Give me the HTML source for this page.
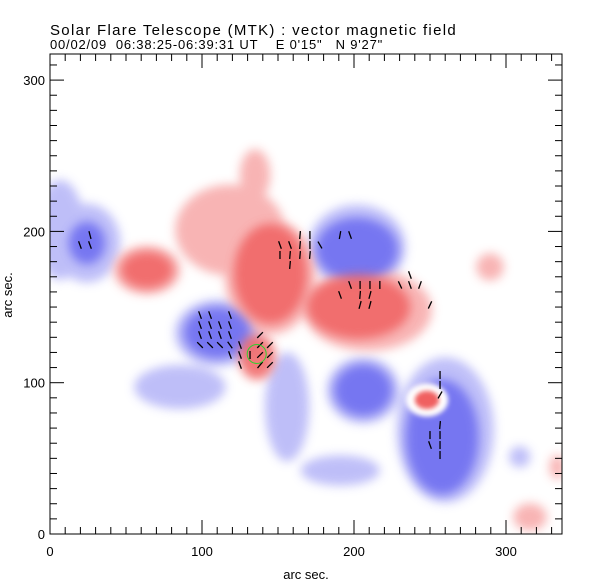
<!DOCTYPE html>
<html><head><meta charset="utf-8"><style>
body{margin:0;background:#fff;}
svg{display:block;font-family:"Liberation Sans",sans-serif;}
</style></head><body>
<svg id="c" width="612" height="585" viewBox="0 0 612 585">
<defs>
<filter id="bl" x="-50%" y="-50%" width="200%" height="200%"><feGaussianBlur stdDeviation="5"/></filter>
<filter id="bl2" x="-50%" y="-50%" width="200%" height="200%"><feGaussianBlur stdDeviation="2.5"/></filter>
<clipPath id="pc"><rect x="50" y="54" width="512" height="480"/></clipPath>
</defs>
<text x="50" y="35" font-size="15" letter-spacing="1.3">Solar Flare Telescope (MTK) : vector magnetic field</text>
<text x="50" y="49" font-size="13" letter-spacing="0.8" xml:space="preserve">00/02/09  06:38:25-06:39:31 UT    E 0'15"   N 9'27"</text>
<g id="img" clip-path="url(#pc)"></g>
<g id="arr"></g>
<g id="ax"></g>
<text x="306" y="579" font-size="13" text-anchor="middle">arc sec.</text>
<text x="0" y="0" font-size="13" text-anchor="middle" transform="translate(12,295) rotate(-90)">arc sec.</text>
</svg>
<script>
const xTicks=[0,100,200,300];
const yTicks=[0,100,200,300];
// blobs: [x, y, rx, ry] in arc sec
const lightBlue=[[85.5,97.2,30,14.5],[156,84,14.5,36],[191,42,26,10],[6.6,201,16,33],[24.3,192.3,22,26],[260,68.7,32,48],[202,189.7,32,28],[309,51,7,7],[110,132.8,28,22],[206,95,24,22]];
const strongBlue=[[202,188,27,21],[110,133,22,17],[24.3,192.3,12,14],[206,95,19,17],[258,64,24,38]];
const pinkRed=[[118.4,200.9,36,30],[134.9,237.3,10,17],[289.5,176.5,9,9],[315.8,11.2,11,9],[333.6,44.3,5,8],[209.2,148,42,27],[63.8,174.5,22,16],[145,170,30,38]];
const strongRed=[[145,172,24,33],[203,150,34,21],[63.8,174.5,17,12],[136.2,117,12,15],[248,88.6,8,6]];
const whiteRing=[[248,88.6,14,11]];
// arrows: [x, y, angleDeg]
const arrows=[[26.3,197.6,-15],[19.7,191,-20],[26.3,191,-20],
[164.5,197.6,5],[171,197.6,0],[190.8,197.6,10],[197.4,197.6,-20],
[151.3,191,-20],[157.9,191,-20],[164.5,191,5],[171,191,0],[177.6,191,-30],
[151.3,184.4,0],[157.9,184.4,5],[164.5,184.4,5],[171,184.4,5],[157.9,177.8,5],
[236.8,171.2,-20],[197.4,164.6,-20],[204,164.6,0],[210.5,164.6,0],[217,164.6,0],[230.3,164.6,-25],[236.8,164.6,-20],[243.4,164.6,20],
[190.8,158,-20],[204,158,5],[210.5,158,15],[204,151.4,15],[210.5,151.4,15],[250,151.4,25],
[98.7,144.7,-20],[105.3,144.7,-20],[118.4,144.7,-20],
[98.7,138.1,-20],[105.3,138.1,-20],[111.8,138.1,-20],[118.4,138.1,-20],
[98.7,131.5,-20],[105.3,131.5,-20],[111.8,131.5,-20],[118.4,131.5,-20],
[98.7,124.9,-45],[105.3,124.9,-45],[111.8,124.9,-45],[118.4,124.9,-35],[125,124.9,-20],
[118.4,118.3,-20],[125,118.3,-20],[125,111.7,-20],
[138.2,131.5,45],[144.7,124.9,45],[138.2,124.9,45],[131.6,118.3,0],[138.2,118.3,45],[144.7,118.3,45],[138.2,111.7,40],[144.7,111.7,45],
[256.6,105.1,0],[256.6,98.5,0],[256.6,91.9,30],
[256.6,72,5],[250,65.4,0],[256.6,65.4,0],[250,58.8,-20],[256.6,58.8,0],[256.6,52.2,0]];
const X=v=>50+v*1.52, Y=v=>534-v*1.513;
const NS='http://www.w3.org/2000/svg';
function mk(t,a,p){const e=document.createElementNS(NS,t);for(const k in a)e.setAttribute(k,a[k]);p.appendChild(e);return e;}
const img=document.getElementById('img');
function layer(list,fill,op,filt,name){
 const g=mk('g',{filter:'url(#'+filt+')',opacity:op},img);
 
 
 list.forEach(b=>{const e=mk('ellipse',{cx:X(b[0]),cy:Y(b[1]),rx:b[2]*1.52,ry:b[3]*1.513,fill:fill},g);
  
  });
}
layer(lightBlue,'#b8b8f8',0.9,'bl','negative-polarity-light');
layer(pinkRed,'#f8b0b0',0.95,'bl','positive-polarity-light');
layer(strongBlue,'#6a6af0',0.85,'bl','negative-polarity-core');
layer(strongRed,'#f06262',0.85,'bl','positive-polarity-core');
layer(whiteRing,'#ffffff',1,'bl2','neutral-ring');
layer([[248,88.6,8,6]],'#f06060',1,'bl2','red-core-small');
const ar=document.getElementById('arr');
arrows.forEach(a=>{const cx=X(a[0]),cy=Y(a[1]),r=a[2]*Math.PI/180,L=4;
 const dx=Math.sin(r)*L,dy=Math.cos(r)*L;
 const l=mk('line',{x1:cx-dx,y1:cy+dy,x2:cx+dx,y2:cy-dy,stroke:'#000','stroke-width':1.3},ar);
 
 });
const gc=mk('circle',{cx:X(136),cy:Y(119),r:9.5,fill:'none',stroke:'#30d030','stroke-width':1},ar);


const ax=document.getElementById('ax');
const fr=mk('rect',{x:50,y:54,width:512,height:480,fill:'none',stroke:'#000','stroke-width':1},ax);


for(let v=0;v<=337;v+=10){const x=X(v),len=v%100==0?14:7;
 mk('line',{x1:x,y1:534,x2:x,y2:534-len,stroke:'#000'},ax);
 mk('line',{x1:x,y1:54,x2:x,y2:54+len,stroke:'#000'},ax);}
for(let v=0;v<=317;v+=10){const y=Y(v),len=v%100==0?14:7;
 mk('line',{x1:50,y1:y,x2:50+len,y2:y,stroke:'#000'},ax);
 mk('line',{x1:562,y1:y,x2:562-len,y2:y,stroke:'#000'},ax);}
xTicks.forEach(v=>{const t=mk('text',{x:X(v),y:556,'font-size':13,'text-anchor':'middle'},ax);t.textContent=v;
 
 });
yTicks.forEach(v=>{const t=mk('text',{x:45,y:Y(v)+5,'font-size':13,'text-anchor':'end'},ax);t.textContent=v;
 
 });
</script>
</body></html>
